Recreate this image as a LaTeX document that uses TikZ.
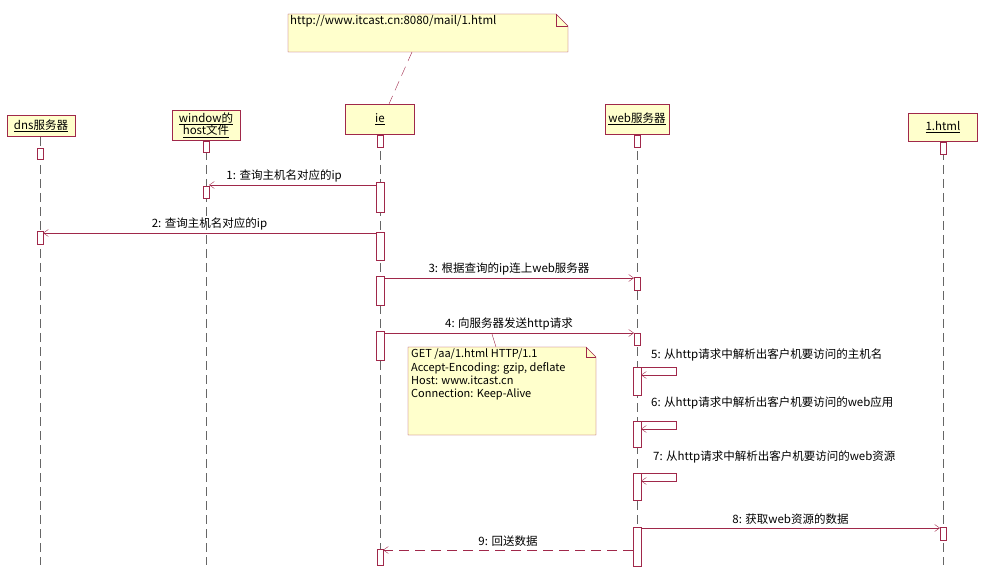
\documentclass[tikz,border=0pt]{standalone}
\usepackage{fontspec}
\setmainfont{Noto Sans CJK SC}
\usetikzlibrary{arrows.meta}
\definecolor{ln}{HTML}{A0284A}
\definecolor{fillc}{HTML}{FFFFCC}
\tikzset{
 obj/.style={draw=ln,fill=fillc,font=\fontsize{11.5}{12}\selectfont,align=center,inner sep=1pt},
 act/.style={draw=ln,fill=white},
 life/.style={draw=black!60,dash pattern=on 9pt off 5pt},
 msg/.style={draw=ln,-{Straight Barb[length=5pt,width=7pt]}},
 lbl/.style={font=\fontsize{11.5}{12}\selectfont,inner sep=1pt},
 longdash/.style={dash pattern=on 10pt off 6pt},
}
\begin{document}
\begin{tikzpicture}[x=1pt,y=-1pt]
\useasboundingbox (0,0) rectangle (986,588);
% lifelines
\foreach \x in {40,206,380,637,943} \draw[life] (\x,137) -- (\x,565);
% top note
\draw[ln,fill=fillc] (288,14) -- (556,14) -- (568,26) -- (568,52) -- (288,52) -- cycle;
\draw[ln] (556,14) -- (556,26) -- (568,26);
\node[lbl,anchor=north west] (n1) at (289,14) {http://www.itcast.cn:8080/mail/1.html};
\coordinate (n1b) at (412,52);
\coordinate (iet) at (389,104);
\draw[ln,longdash] (n1b) -- (iet);
% objects
\node[obj,minimum width=68,minimum height=21] (dns) at (41,126) {\underline{dns服务器}};
\node[obj,minimum width=68,minimum height=30] (win) at (206,125) {\underline{window的}\\[-1pt]\underline{host文件}};
\node[obj,minimum width=69,minimum height=30] (ie) at (380,119) {\underline{ie}};
\node[obj,minimum width=64,minimum height=30] (web) at (637,119) {\underline{web服务器}};
\node[obj,minimum width=69,minimum height=28] (html) at (943,127) {\underline{1.html}};
% head activations
\draw[act] (37,148) rectangle (43,159);
\draw[act] (203,141) rectangle (209,152);
\draw[act] (377,135) rectangle (383,147);
\draw[act] (634,135) rectangle (640,147);
\draw[act] (940,142) rectangle (946,154);
% activations
\draw[act] (203,186) rectangle (209,198);
\draw[act] (376,182) rectangle (384,212);
\draw[act] (37,231) rectangle (43,244);
\draw[act] (376,232) rectangle (384,260);
\draw[act] (376,276) rectangle (384,305);
\draw[act] (634,277) rectangle (640,290);
\draw[act] (376,331) rectangle (384,360);
\draw[act] (634,333) rectangle (640,345);
\draw[act] (633,367) rectangle (641,395);
\draw[act] (633,421) rectangle (641,447);
\draw[act] (633,473) rectangle (641,500);
\draw[act] (633,527) rectangle (641,566);
\draw[act] (940,527) rectangle (946,540);
\draw[act] (377,549) rectangle (383,565);
% messages
\coordinate (m1a) at (376,185); \coordinate (m1b) at (209,185);
\draw[msg] (m1a) -- node[lbl,above=2pt,pos=0.55]{1: 查询主机名对应的ip} (m1b);
\coordinate (m2a) at (376,233); \coordinate (m2b) at (43,233);
\draw[msg] (m2a) -- node[lbl,above=2pt,pos=0.5]{2: 查询主机名对应的ip} (m2b);
\coordinate (m3a) at (384,278); \coordinate (m3b) at (634,278);
\draw[msg] (m3a) -- node[lbl,above=2pt]{3: 根据查询的ip连上web服务器} (m3b);
\coordinate (m4a) at (384,333); \coordinate (m4b) at (634,333);
\draw[msg] (m4a) -- node[lbl,above=2pt]{4: 向服务器发送http请求} (m4b);
\draw[msg] (641,367) -- (676,367) -- (676,375) -- (641,375);
\node[lbl,anchor=west] (l5) at (650,355) {5: 从http请求中解析出客户机要访问的主机名};
\draw[msg] (641,421) -- (676,421) -- (676,429) -- (641,429);
\node[lbl,anchor=west] (l6) at (650,403) {6: 从http请求中解析出客户机要访问的web应用};
\draw[msg] (641,473) -- (676,473) -- (676,481) -- (641,481);
\node[lbl,anchor=west] (l7) at (652,457) {7: 从http请求中解析出客户机要访问的web资源};
\coordinate (m8a) at (641,528); \coordinate (m8b) at (940,528);
\draw[msg] (m8a) -- node[lbl,above=2pt]{8: 获取web资源的数据} (m8b);
\coordinate (m9a) at (633,550); \coordinate (m9b) at (383,550);
\draw[msg,longdash] (m9a) -- node[lbl,above=2pt,pos=0.5]{9: 回送数据} (m9b);
% request note
\coordinate (rq) at (492,334);
\draw[ln] (rq) -- (496,347);
\draw[ln,fill=fillc] (408,347) -- (586,347) -- (596,357) -- (596,435) -- (408,435) -- cycle;
\draw[ln] (586,347) -- (586,357) -- (596,357);
\node[lbl,anchor=north west,align=left,font=\fontsize{11}{13.3}\selectfont] (n2) at (410,348) {GET /aa/1.html HTTP/1.1\\Accept-Encoding: gzip, deflate\\Host: www.itcast.cn\\Connection: Keep-Alive};
\end{tikzpicture}
\end{document}
